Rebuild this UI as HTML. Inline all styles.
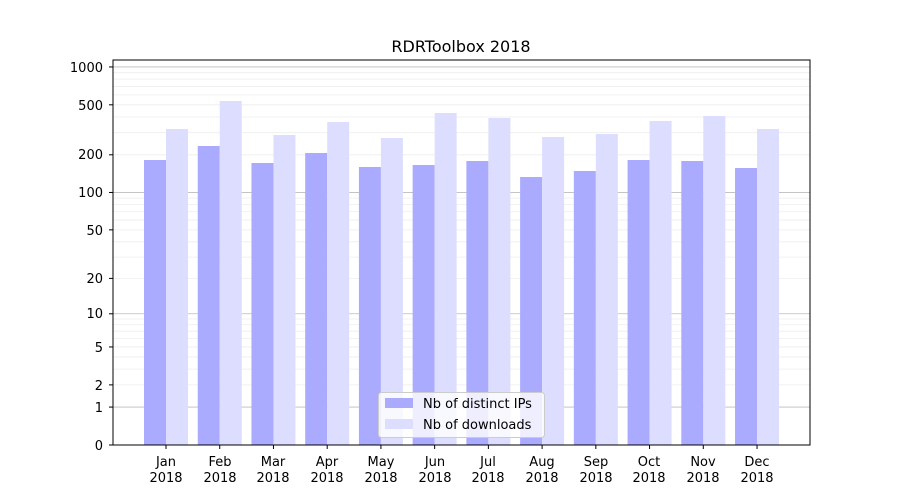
<!DOCTYPE html>
<html><head><meta charset="utf-8"><style>
body{margin:0;background:#fff}
svg{display:block;font-family:"DejaVu Sans","Liberation Sans",sans-serif}
</style></head><body>
<svg id="s" width="900" height="500" viewBox="0 0 900 500" xmlns="http://www.w3.org/2000/svg">
<rect width="900" height="500" fill="#fff"/>
<g id="grid"></g>
<g id="bars"></g>
<rect x="113" y="60" width="697" height="385" fill="none" stroke="#000" stroke-width="1"/>
<g id="ticks" stroke="#000" stroke-width="1"></g>
<g font-size="13" text-anchor="end" fill="#000">
<text x="103" y="72">1000</text>
<text x="103" y="110">500</text>
<text x="103" y="159">200</text>
<text x="103" y="197">100</text>
<text x="103" y="235">50</text>
<text x="103" y="283">20</text>
<text x="103" y="318">10</text>
<text x="103" y="352">5</text>
<text x="103" y="390">2</text>
<text x="103" y="412">1</text>
<text x="103" y="450">0</text>
</g>
<g font-size="13" text-anchor="middle" fill="#000">
<text x="166" y="466">Jan</text><text x="166" y="482">2018</text>
<text x="220" y="466">Feb</text><text x="220" y="482">2018</text>
<text x="273" y="466">Mar</text><text x="273" y="482">2018</text>
<text x="327" y="466">Apr</text><text x="327" y="482">2018</text>
<text x="381" y="466">May</text><text x="381" y="482">2018</text>
<text x="435" y="466">Jun</text><text x="435" y="482">2018</text>
<text x="488" y="466">Jul</text><text x="488" y="482">2018</text>
<text x="542" y="466">Aug</text><text x="542" y="482">2018</text>
<text x="596" y="466">Sep</text><text x="596" y="482">2018</text>
<text x="649" y="466">Oct</text><text x="649" y="482">2018</text>
<text x="703" y="466">Nov</text><text x="703" y="482">2018</text>
<text x="757" y="466">Dec</text><text x="757" y="482">2018</text>
</g>
<text x="461" y="52" font-size="16" text-anchor="middle">RDRToolbox 2018</text>
<rect x="378.5" y="392.5" width="166" height="45" rx="3" fill="#fff" fill-opacity="0.8" stroke="#ccc"/>
<rect x="385" y="398" width="28" height="10" fill="#aaaaff"/>
<rect x="385" y="419" width="28" height="10" fill="#ddddff"/>
<text x="423" y="408" font-size="13">Nb of distinct IPs</text>
<text x="423" y="429" font-size="13">Nb of downloads</text>
</svg>
<script>
var ns="http://www.w3.org/2000/svg";
function el(p,t,a){var e=document.createElementNS(ns,t);for(var k in a)e.setAttribute(k,a[k]);p.appendChild(e);return e;}
function Y(v){return 445-126*Math.log10(v+1);}
var g=document.getElementById("grid");
[1,10,100].forEach(function(d){for(var m=2;m<=9;m++){var y=Y(m*d);el(g,"line",{x1:113,x2:810,y1:y,y2:y,stroke:"#eee","stroke-width":0.8});}});
[1,10,100,1000].forEach(function(v){var y=Y(v);el(g,"line",{x1:113,x2:810,y1:y,y2:y,stroke:"#bbb","stroke-width":0.8});});
var b=document.getElementById("bars");
var ip=[160,146,163,153,167,165,161,177,171,160,161,168];
var dl=[129,101,135,122,138,113,118,137,134,121,116,129];
for(var i=0;i<12;i++){var c=166+i*53.73;
el(b,"rect",{x:c-22,y:ip[i],width:22,height:445-ip[i],fill:"#aaaaff"});
el(b,"rect",{x:c,y:dl[i],width:22,height:445-dl[i],fill:"#ddddff"});}
var t=document.getElementById("ticks");
[1000,500,200,100,50,20,10,5,2,1,0].forEach(function(v){var y=Y(v);el(t,"line",{x1:109,x2:113,y1:y,y2:y});});
for(var i=0;i<12;i++){var x=166+i*53.73;el(t,"line",{x1:x,x2:x,y1:445,y2:449});}
</script>
</body></html>
